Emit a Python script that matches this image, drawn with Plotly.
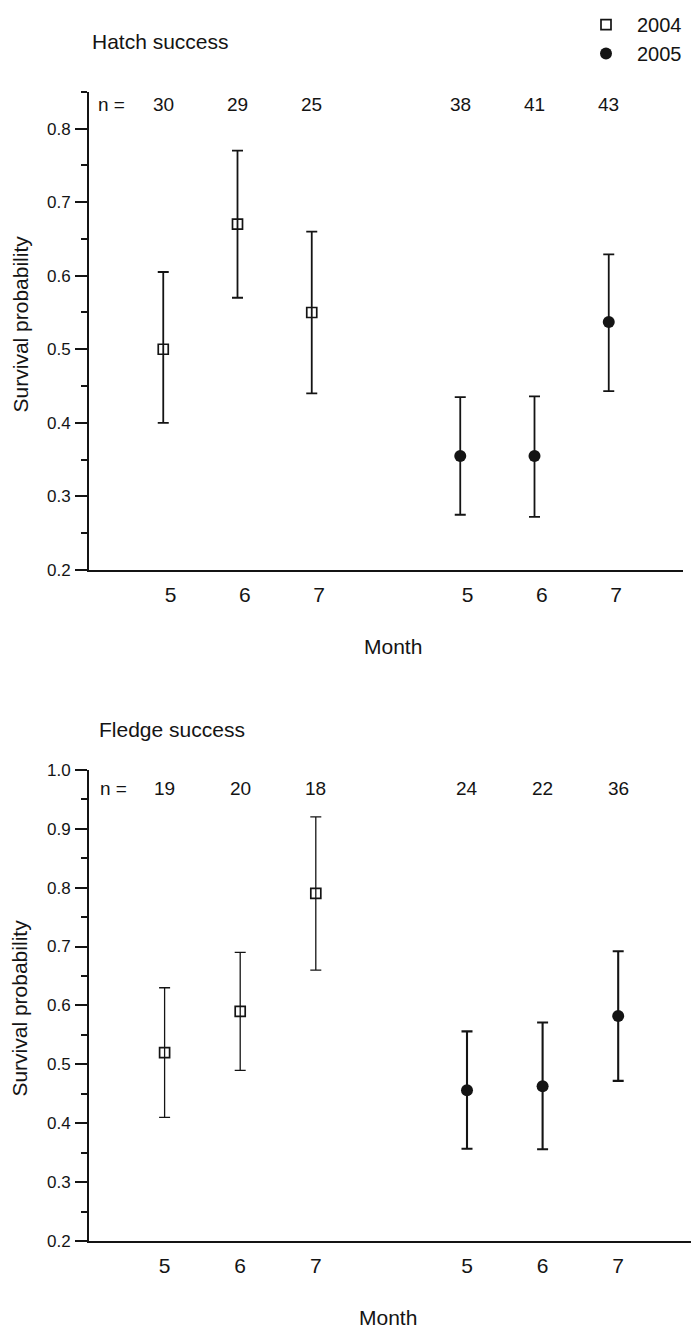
import plotly.graph_objects as go

# ---- data -------------------------------------------------------------
months = [5, 6, 7]
pos_2004 = [1, 2, 3]
pos_2005 = [5, 6, 7]

# Hatch success: estimate with lower / upper confidence limits
hatch_2004_est = [0.50, 0.67, 0.55]
hatch_2004_lo = [0.40, 0.57, 0.44]
hatch_2004_hi = [0.605, 0.77, 0.66]
hatch_2005_est = [0.355, 0.355, 0.537]
hatch_2005_lo = [0.275, 0.272, 0.443]
hatch_2005_hi = [0.435, 0.436, 0.629]
hatch_n = [30, 29, 25, 38, 41, 43]

# Fledge success
fledge_2004_est = [0.52, 0.59, 0.79]
fledge_2004_lo = [0.41, 0.49, 0.66]
fledge_2004_hi = [0.63, 0.69, 0.92]
fledge_2005_est = [0.456, 0.463, 0.582]
fledge_2005_lo = [0.357, 0.356, 0.472]
fledge_2005_hi = [0.556, 0.571, 0.692]
fledge_n = [19, 20, 18, 24, 22, 36]

# ---- geometry ----------------------------------------------------------
W, H = 691, 1339
FONT = "Liberation Sans, Arial, Helvetica, sans-serif"
INK = "#141414"


def px_x(p):
    return p / W


def px_y(p):
    return (H - p) / H


def err(est, lo, hi):
    return [h - e for e, h in zip(est, hi)], [e - l for e, l in zip(est, lo)]


fig = go.Figure()


def add_panel(xa, ya, e04, lo04, hi04, e05, lo05, hi05, show, w04, w05):
    up, dn = err(e04, lo04, hi04)
    fig.add_trace(go.Scatter(
        x=pos_2004, y=e04, mode="markers", name="2004", showlegend=show,
        xaxis=xa, yaxis=ya,
        marker=dict(symbol="square-open", size=10, color=INK, line=dict(width=1.7, color=INK)),
        error_y=dict(type="data", symmetric=False, array=up, arrayminus=dn,
                     thickness=w04, width=5.5, color=INK),
    ))
    up, dn = err(e05, lo05, hi05)
    fig.add_trace(go.Scatter(
        x=pos_2005, y=e05, mode="markers", name="2005", showlegend=show,
        xaxis=xa, yaxis=ya,
        marker=dict(symbol="circle", size=12, color=INK),
        error_y=dict(type="data", symmetric=False, array=up, arrayminus=dn,
                     thickness=w05, width=5.5, color=INK),
    ))


add_panel("x", "y", hatch_2004_est, hatch_2004_lo, hatch_2004_hi,
          hatch_2005_est, hatch_2005_lo, hatch_2005_hi, True, 1.8, 1.8)
add_panel("x2", "y2", fledge_2004_est, fledge_2004_lo, fledge_2004_hi,
          fledge_2005_est, fledge_2005_lo, fledge_2005_hi, False, 1.3, 2.1)

xcommon = dict(showline=True, linewidth=2, linecolor=INK, ticks="", showgrid=False,
               zeroline=False, tickfont=dict(family=FONT, size=21, color=INK),
               ticklabelstandoff=5, fixedrange=True)
ycommon = dict(showline=True, linewidth=2, linecolor=INK, showgrid=False, zeroline=False,
               ticks="outside", ticklen=12, tickwidth=2, tickcolor=INK,
               tick0=0.2, dtick=0.1, tickformat=".1f",
               minor=dict(ticks="outside", ticklen=6, tickwidth=2, tickcolor=INK, dtick=0.05),
               tickfont=dict(family=FONT, size=17, color=INK), ticklabelstandoff=1,
               fixedrange=True)

fig.update_layout(
    width=W, height=H,
    margin=dict(l=0, r=0, t=0, b=0),
    paper_bgcolor="white", plot_bgcolor="white",
    font=dict(family=FONT, color=INK),
    xaxis=dict(xcommon, domain=[px_x(89), px_x(683)], range=[0, 8],
               tickvals=[p + 0.1 for p in pos_2004 + pos_2005], ticktext=[str(m) for m in months * 2],
               anchor="y"),
    yaxis=dict(ycommon, domain=[px_y(569), px_y(84)], range=[0.2, 0.85], anchor="x"),
    xaxis2=dict(xcommon, domain=[px_x(89), 1.0], range=[0, 602 / 75.6],
                tickvals=pos_2004 + pos_2005, ticktext=[str(m) for m in months * 2],
                anchor="y2"),
    yaxis2=dict(ycommon, domain=[px_y(1250), px_y(771.6)], range=[0.2, 1.0], anchor="x2"),
    legend=dict(x=px_x(575), y=px_y(-4), xanchor="left", yanchor="top",
                font=dict(family=FONT, size=20, color=INK), itemwidth=52,
                bgcolor="rgba(0,0,0,0)", tracegroupgap=0),
    showlegend=True,
)

annotations = []


def txt(x, y, s, size, xanchor="center", angle=0, xref="paper", yref="paper"):
    annotations.append(dict(x=x, y=y, xref=xref, yref=yref, text=s, showarrow=False,
                            xanchor=xanchor, yanchor="middle", textangle=angle,
                            font=dict(family=FONT, size=size, color=INK)))


# panel titles
txt(px_x(90), px_y(33), "Hatch success", 21, xanchor="left")
txt(px_x(97), px_y(731), "Fledge success", 21, xanchor="left")

# axis titles
txt(px_x(20), px_y(320), "Survival probability", 21, angle=-90)
txt(px_x(20), px_y(1014), "Survival probability", 21, angle=-90)
txt(px_x(393), px_y(647), "Month", 21)
txt(px_x(388), px_y(1327), "Month", 21)

# sample sizes
positions = pos_2004 + pos_2005
txt(0.1, 0.833, "n =", 19, xanchor="left", xref="x", yref="y")
for p, n in zip(positions, hatch_n):
    txt(p, 0.833, str(n), 19, xref="x", yref="y")
txt(0.12, 0.968, "n =", 19, xanchor="left", xref="x2", yref="y2")
for p, n in zip(positions, fledge_n):
    txt(p, 0.968, str(n), 19, xref="x2", yref="y2")

fig.update_layout(annotations=annotations)

fig.write_html("out.html")
